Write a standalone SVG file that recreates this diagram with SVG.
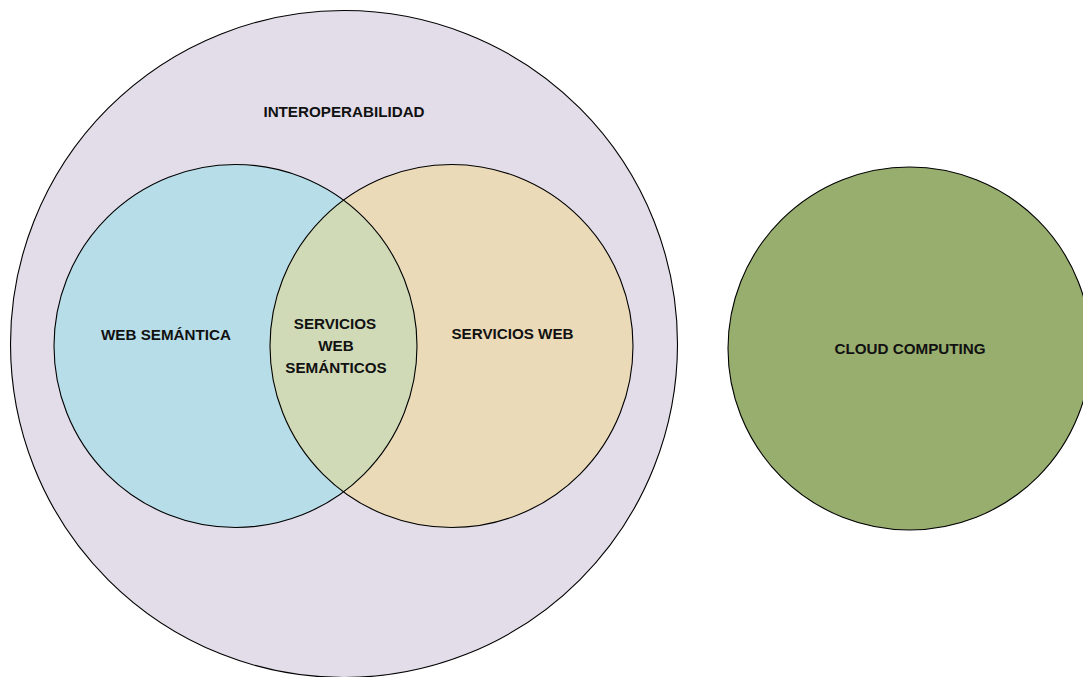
<svg xmlns="http://www.w3.org/2000/svg" width="1083" height="677" viewBox="0 0 1083 677">
  <style>
    .ring { stroke: #000; stroke-width: 1.1; }
    .label { font-family: "Liberation Sans", Arial, sans-serif; font-weight: bold; font-size: 15.2px; fill: #111; text-anchor: middle; }
  </style>
  <rect width="1083" height="677" fill="#fff"/>

  <!-- outer set: interoperability -->
  <g id="interoperabilidad">
    <circle class="ring" cx="344" cy="344" r="333.5" fill="#E3DDEA"/>
    <text class="label" x="344" y="117">INTEROPERABILIDAD</text>
  </g>

  <!-- semantic web set -->
  <g id="web-semantica">
    <circle cx="235.5" cy="346" r="181.5" fill="#B7DDE8"/>
    <text class="label" x="166" y="340">WEB SEMÁNTICA</text>
  </g>

  <!-- web services set -->
  <g id="servicios-web">
    <circle cx="451.5" cy="346" r="181.5" fill="#EBDAB8"/>
    <text class="label" x="512.5" y="339">SERVICIOS WEB</text>
  </g>

  <!-- overlap of the two sets: semantic web services -->
  <g id="servicios-web-semanticos">
    <path d="M 343.5 199.8 A 181.5 181.5 0 0 1 343.5 492.2 A 181.5 181.5 0 0 1 343.5 199.8 Z" fill="#D0DAB7"/>
    <circle class="ring" cx="235.5" cy="346" r="181.5" fill="none"/>
    <circle class="ring" cx="451.5" cy="346" r="181.5" fill="none"/>
    <text class="label" x="335" y="329">SERVICIOS</text>
    <text class="label" x="336" y="351">WEB</text>
    <text class="label" x="336" y="373">SEMÁNTICOS</text>
  </g>

  <!-- separate set: cloud computing -->
  <g id="cloud-computing">
    <circle class="ring" cx="909.5" cy="348.5" r="181.5" fill="#98AE6F"/>
    <text class="label" x="910" y="354">CLOUD COMPUTING</text>
  </g>
</svg>
